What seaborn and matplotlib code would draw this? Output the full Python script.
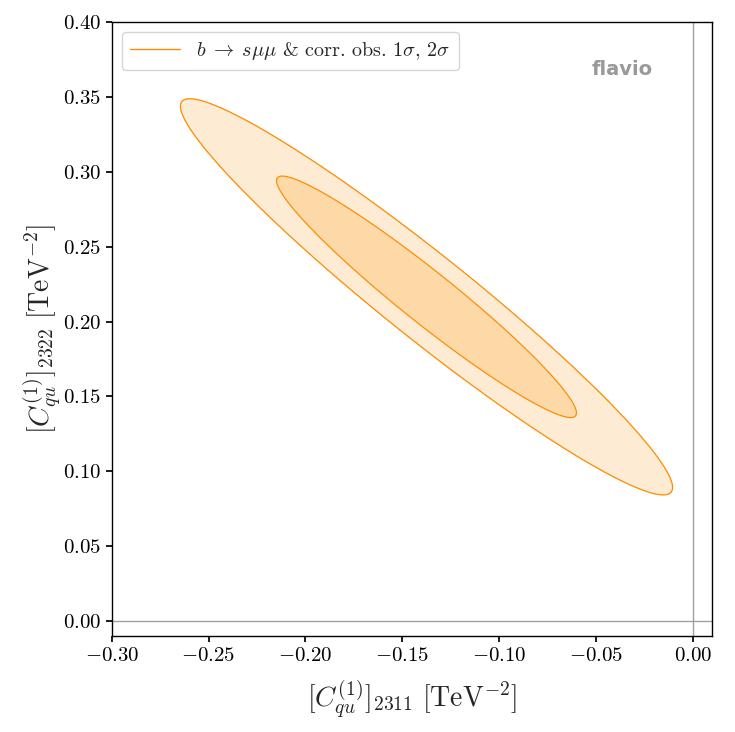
import numpy as np
import matplotlib
matplotlib.use("Agg")
import matplotlib.pyplot as plt
import seaborn as sns

# fitted Gaussian
CENTER = [-0.1375, 0.2165]       # (C_2311, C_2322)
SIGMA = [0.0511, 0.0532]
RHO = -0.962
# 2D delta chi2 for 1 sigma and 2 sigma
LEVELS = [0.0, 2.2958, 6.1801]
FILL_COLORS = ["#fdd9a8", "#fdebd3"]
LINE_COLOR = "#ff8c00"
LABEL = r"$b\;\to\; s\mu\mu$ & corr. obs. $1\sigma$, $2\sigma$"

XLIM = (-0.30, 0.01)
YLIM = (-0.01, 0.40)
XTICKS = [-0.30, -0.25, -0.20, -0.15, -0.10, -0.05, 0.00]
YTICKS = [0.00, 0.05, 0.10, 0.15, 0.20, 0.25, 0.30, 0.35, 0.40]

sns.set_theme(style="ticks")
plt.rcParams.update({
    "font.family": "serif",
    "font.serif": ["cmr10", "DejaVu Serif"],
    "mathtext.fontset": "cm",
    "axes.formatter.use_mathtext": True,
    "axes.edgecolor": "black",
    "axes.linewidth": 1.0,
    "xtick.color": "black",
    "ytick.color": "black",
    "xtick.labelsize": 15,
    "ytick.labelsize": 15,
    "xtick.major.size": 4,
    "ytick.major.size": 4,
})


def chi2_grid(xlim, ylim, n=500):
    x = np.linspace(*xlim, n)
    y = np.linspace(*ylim, n)
    X, Y = np.meshgrid(x, y)
    dx = (X - CENTER[0]) / SIGMA[0]
    dy = (Y - CENTER[1]) / SIGMA[1]
    z = (dx**2 - 2 * RHO * dx * dy + dy**2) / (1 - RHO**2)
    return X, Y, z


fig = plt.figure(figsize=(7.35, 7.32), dpi=100)
ax = fig.add_axes([0.152, 0.131, 0.817, 0.839])

X, Y, Z = chi2_grid(XLIM, YLIM)
ax.contourf(X, Y, Z, levels=LEVELS, colors=FILL_COLORS)
ax.contour(X, Y, Z, levels=LEVELS[1:], colors=LINE_COLOR, linewidths=0.9)

ax.axhline(0, color="#a0a0a0", lw=1, zorder=0)
ax.axvline(0, color="#a0a0a0", lw=1, zorder=0)

ax.plot([], [], color=LINE_COLOR, lw=1, label=LABEL)
ax.legend(loc="upper left", fontsize=14.5, frameon=True, fancybox=True,
          edgecolor="#cccccc", handlelength=2.5)

ax.text(0.85, 0.923, "flavio", transform=ax.transAxes, ha="center", va="center",
        fontsize=14, fontweight="bold", color="#999999", family="DejaVu Sans")

ax.set_xlim(*XLIM)
ax.set_ylim(*YLIM)
ax.set_xticks(XTICKS)
ax.set_yticks(YTICKS)
ax.set_xticklabels([f"${t:.2f}$".replace("-0.00", "0.00") for t in XTICKS])
ax.set_yticklabels([f"${t:.2f}$" for t in YTICKS])
ax.set_xlabel(r"$[C_{qu}^{(1)}]_{2311}\ [\mathrm{TeV}^{-2}]$", fontsize=20, labelpad=10)
ax.set_ylabel(r"$[C_{qu}^{(1)}]_{2322}\ [\mathrm{TeV}^{-2}]$", fontsize=20, labelpad=0)

fig.savefig("out.png", dpi=100)
